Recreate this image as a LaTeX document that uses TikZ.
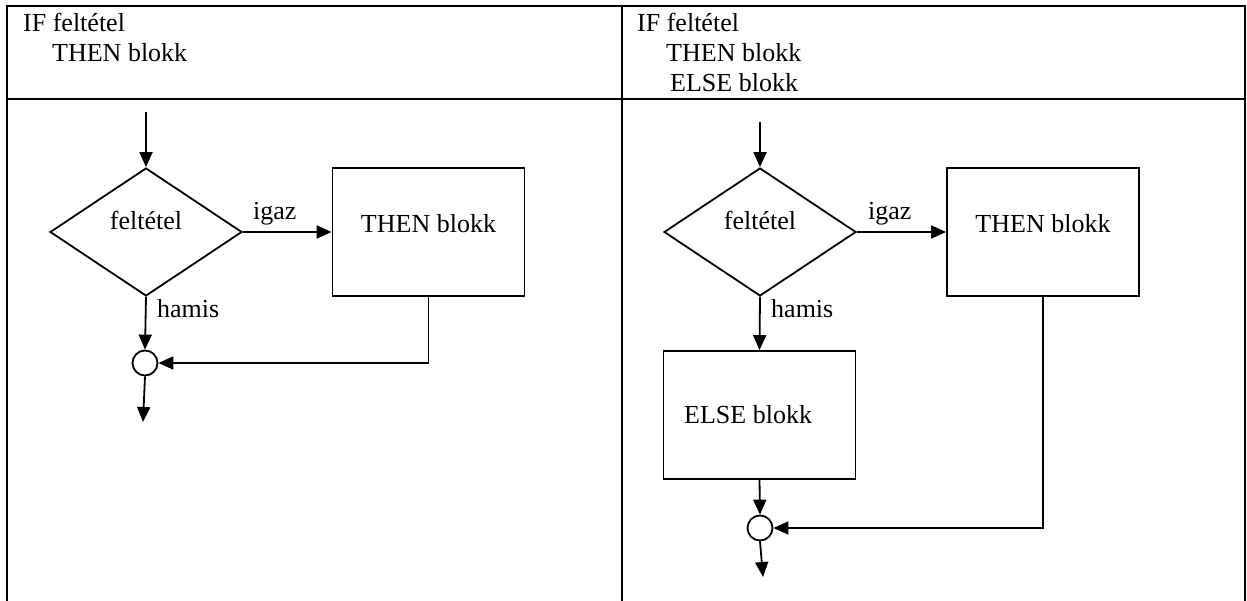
\documentclass[tikz,border=0pt]{standalone}
\usepackage{fontspec}
\setmainfont{Liberation Serif}
\usetikzlibrary{arrows.meta,shapes.geometric}

\tikzset{
  grid/.style={line width=2.2pt, line join=miter},
  flow/.style={line width=1.8pt},
  arr/.style={flow, -{Triangle[length=15pt,width=13pt]}},
  txt/.style={font=\fontsize{26}{30}\selectfont, inner sep=0pt, anchor=base west},
  ctxt/.style={font=\fontsize{26}{30}\selectfont, inner sep=0pt, anchor=base},
  decision/.style={flow, draw, diamond, inner sep=0pt, minimum width=192pt, minimum height=128pt},
  block/.style={flow, draw, rectangle, inner sep=0pt, minimum width=192pt, minimum height=128pt},
  joint/.style={flow, draw, circle, inner sep=0pt, minimum size=25pt},
}

\begin{document}
\begin{tikzpicture}[x=1pt, y=-1pt]
\useasboundingbox (0,0) rectangle (1247,601);

% table frame (open at the bottom)
\draw[grid] (7,601) -- (7,6) -- (1245,6) -- (1245,601);
\draw[grid] (7,99) -- (1245,99);
\draw[grid] (622,6) -- (622,601);

% ---- header texts ----
\node[txt] (h1a) at (23,32) {IF feltétel};
\node[txt] (h1b) at (52,62) {THEN blokk};
\node[txt] (h2a) at (637,32) {IF feltétel};
\node[txt] (h2b) at (666,62) {THEN blokk};
\node[txt] (h2c) at (670,92) {ELSE blokk};

% ---- left panel: IF ... THEN ----
\coordinate (in1) at (146,112);
\node[decision] (d1) at (146,232) {};
\node[ctxt] (d1t) at (146,230) {feltétel};
\node[block] (t1) at (428.5,232) {};
\node[ctxt] (t1t) at (428.5,233) {THEN blokk};
\node[joint] (c1) at (145,363) {};
\coordinate (out1) at (143,422);

\draw[arr] (in1) -- (d1.north);
\draw[arr] (d1.east) -- (t1.west);
\node[txt] (g1) at (253,220) {igaz};
\draw[arr] (d1.south) -- (c1.north);
\node[txt] (f1) at (157,318) {hamis};
\draw[arr] (t1.south) |- (c1.east);
\draw[arr] (c1.south) -- (out1);

% ---- right panel: IF ... THEN ... ELSE ----
\coordinate (in2) at (760,122);
\node[decision] (d2) at (760,232) {};
\node[ctxt] (d2t) at (760,230) {feltétel};
\node[block] (t2) at (1043,232) {};
\node[ctxt] (t2t) at (1043,233) {THEN blokk};
\node[block] (e2) at (759.5,415) {};
\node[txt] (e2t) at (684,423) {ELSE blokk};
\node[joint] (c2) at (760,528) {};
\coordinate (out2) at (763,577);

\draw[arr] (in2) -- (d2.north);
\draw[arr] (d2.east) -- (t2.west);
\node[txt] (g2) at (868,220) {igaz};
\draw[arr] (d2.south) -- (e2.north);
\node[txt] (f2) at (771,318) {hamis};
\draw[arr] (e2.south) -- (c2.north);
\draw[arr] (t2.south) |- (c2.east);
\draw[arr] (c2.south) -- (out2);
\end{tikzpicture}
\end{document}
